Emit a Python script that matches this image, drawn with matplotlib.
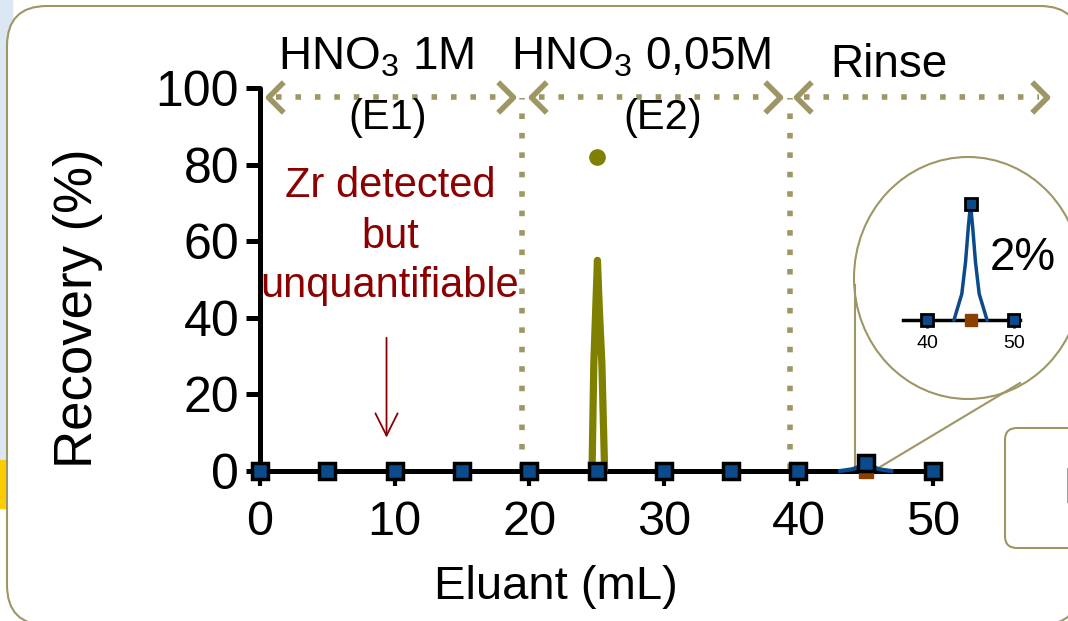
import matplotlib
matplotlib.use("Agg")
import matplotlib.pyplot as plt
from matplotlib.patches import FancyBboxPatch, Ellipse, Rectangle
from matplotlib.path import Path

plt.rcParams['font.family'] = ['Liberation Sans', 'DejaVu Sans']
plt.rcParams['mathtext.fontset'] = 'custom'
plt.rcParams['mathtext.rm'] = 'Liberation Sans'

# ==========================
# Data
# ==========================
eluant_ml = [0, 5, 10, 15, 20, 25, 30, 35, 40, 45, 50]
recovery_blue = [0, 0, 0, 0, 0, 0, 0, 0, 0, 2, 0]

# smoothed blue curve around the 45 mL fraction
bump_x = [43.1, 43.5, 44.0, 44.43, 44.75, 45.0, 45.25, 45.57, 46.0, 46.5, 46.9]
bump_y = [0, 0.2, 0.45, 1.0, 1.6, 2.0, 1.6, 1.0, 0.45, 0.2, 0]

brown_x = [45]
brown_y = [0]

# olive spline (drawn as two nearly parallel strokes) and its point
olive_line_x = [24.67, 24.8, 24.95, 25.07, 25.2, 25.4, 25.6]
olive_line_y = [0.5, 28, 43, 55, 43, 28, 0.5]
olive_dot_x = [25]
olive_dot_y = [82]

xticks = [0, 10, 20, 30, 40, 50]
yticks = [0, 20, 40, 60, 80, 100]
inset_ticks = [40, 50]

phase_edges = [19.5, 39.4]
phase_spans = [(0.6, 18.8), (20.1, 38.6), (39.8, 58.5)]

BLUE = '#0b4a8b'
OLIVE = '#808000'
KHAKI = '#9e9664'
BROWN = '#8b4000'
DARKRED = '#8b0000'

W, H = 1068, 621
fig = plt.figure(figsize=(W / 100, H / 100), dpi=100)

# ==========================
# Slide background (pixel coordinates)
# ==========================
bg = fig.add_axes([0, 0, 1, 1], zorder=-1)
bg.set_xlim(0, W)
bg.set_ylim(H, 0)
bg.axis('off')
bg.add_patch(Rectangle((0, 0), 12, 460, color='#dbe8f4'))
bg.add_patch(Rectangle((0, 460), 12, 48, color='#ffcc00'))
bg.add_patch(FancyBboxPatch((7, 6), 1073, 619,
                            boxstyle='round,pad=0,rounding_size=40',
                            fc='white', ec=KHAKI, lw=1.5))
bg.add_patch(FancyBboxPatch((1005, 428), 100, 120,
                            boxstyle='round,pad=0,rounding_size=12',
                            fc='white', ec=KHAKI, lw=1.5))
bg.text(1062, 490, 'I', fontsize=36, ha='left', va='center')

# zoom circle + leader lines
bg.add_patch(Ellipse((968, 278), 228, 242, fc='white', ec=KHAKI, lw=1.5))
bg.plot([855, 855], [285, 470], color=KHAKI, lw=1.5)
bg.plot([1020, 880], [383, 467], color=KHAKI, lw=1.5)

# ==========================
# Main axes
# ==========================
x_px0, px_per_ml = 260, 13.46
y_px0, px_per_pct = 471, 3.83
xmax = 58.5
ax = fig.add_axes([x_px0 / W, (H - y_px0) / H,
                   xmax * px_per_ml / W, 100 * px_per_pct / H])
ax.set_facecolor('none')
ax.set_xlim(0, xmax)
ax.set_ylim(0, 100)

for s in ['top', 'right']:
    ax.spines[s].set_visible(False)
ax.spines['left'].set_linewidth(3.6)
ax.spines['bottom'].set_linewidth(3.6)
ax.spines['bottom'].set_bounds(0, 50)
ax.spines['left'].set_capstyle('round')
ax.spines['bottom'].set_capstyle('round')

ax.set_xticks(xticks)
ax.set_yticks(yticks)
ax.tick_params(axis='x', length=11, width=3, pad=10, labelsize=35)
ax.tick_params(axis='y', length=10, width=3.6, pad=5, labelsize=36)

ax.set_xlabel('Eluant (mL)', fontsize=34)
ax.xaxis.set_label_coords(0.376, -0.245)
ax.set_ylabel('Recovery (%)', fontsize=38)
ax.yaxis.set_label_coords(-0.2, 0.425)

# phase separators
for xe in phase_edges:
    ax.plot([xe, xe], [0.5, 97.5], color=KHAKI, lw=4,
            linestyle=(0, (1, 2.5)), dash_capstyle='butt', clip_on=False, zorder=1)

# double-headed dotted arrows
left_head = Path([(1, 1), (0, 0), (1, -1)], [Path.MOVETO, Path.LINETO, Path.LINETO])
right_head = Path([(-1, 1), (0, 0), (-1, -1)], [Path.MOVETO, Path.LINETO, Path.LINETO])
for x0, x1 in phase_spans:
    ax.plot([x0 + 0.6, x1 - 0.6], [97.6, 97.6], color=KHAKI, lw=4,
            linestyle=(0, (1, 2.5)), dash_capstyle='butt', clip_on=False)
    ax.plot([x0], [97.6], marker=left_head, ms=22, mfc='none', mec=KHAKI,
            mew=4, clip_on=False)
    ax.plot([x1], [97.6], marker=right_head, ms=22, mfc='none', mec=KHAKI,
            mew=4, clip_on=False)

# phase labels
ax.text(8.6, 104.7, r'HNO$_\mathregular{3}$ 1M', fontsize=33, ha='center',
        va='baseline', clip_on=False)
ax.text(28.3, 104.7, r'HNO$_\mathregular{3}$ 0,05M', fontsize=33, ha='center',
        va='baseline', clip_on=False)
ax.text(46.7, 102.9, 'Rinse', fontsize=33, ha='center', va='baseline', clip_on=False)
ax.text(9.5, 92.2, '(E1)', fontsize=30, ha='center', va='center')
ax.text(29.9, 92.2, '(E2)', fontsize=30, ha='center', va='center')

# Zr note
for txt, yb in zip(['Zr detected', 'but', 'unquantifiable'], [71.5, 58.2, 45.4]):
    ax.text(9.66, yb, txt, fontsize=30, color=DARKRED, ha='center', va='baseline')
ax.annotate('', xy=(9.4, 8.0), xytext=(9.4, 35.5),
            arrowprops=dict(arrowstyle='->,head_length=0.8,head_width=0.4',
                            color=DARKRED, lw=1.3, mutation_scale=20))

# olive series
ax.plot(olive_line_x, olive_line_y, color=OLIVE, lw=5.2, solid_joinstyle='round',
        solid_capstyle='round', zorder=3, clip_on=False)
ax.plot(olive_dot_x, olive_dot_y, 'o', color=OLIVE, ms=11, zorder=3)

# blue / brown series
ax.plot(brown_x, brown_y, 's', color=BROWN, ms=10, zorder=4, clip_on=False)
ax.plot(bump_x, bump_y, color=BLUE, lw=3, zorder=4, clip_on=False)
ax.plot(eluant_ml, recovery_blue, 's', mfc=BLUE, mec='black', mew=2.5, ms=12,
        zorder=5, clip_on=False)

# ==========================
# Zoomed inset
# ==========================
in_x0, in_px = 927, 8.7   # px of 40 mL, px per mL
in_y0, in_py = 320, 58.0  # px of 0 %, px per %
ix_lo, ix_hi = 37.2, 50.7
iy_lo, iy_hi = -0.5, 2.4
axi = fig.add_axes([(in_x0 + (ix_lo - 40) * in_px) / W,
                    (H - (in_y0 - iy_lo * in_py)) / H,
                    (ix_hi - ix_lo) * in_px / W,
                    (iy_hi - iy_lo) * in_py / H])
axi.set_facecolor('none')
axi.set_xlim(ix_lo, ix_hi)
axi.set_ylim(iy_lo, iy_hi)
for s in ['top', 'right', 'left']:
    axi.spines[s].set_visible(False)
axi.spines['bottom'].set_position(('data', 0))
axi.spines['bottom'].set_linewidth(2.5)
axi.set_yticks([])
axi.set_xticks(inset_ticks)
axi.tick_params(axis='x', length=6, width=2, pad=5, labelsize=14)
axi.plot(bump_x, bump_y, color=BLUE, lw=2.5, zorder=3, solid_joinstyle='round')
axi.plot(brown_x, brown_y, 's', color=BROWN, ms=8, zorder=3)
axi.plot(eluant_ml, recovery_blue, 's', mfc=BLUE, mec='black', mew=2, ms=8,
         zorder=4)
bg.text(1023, 258, '2%', fontsize=33, ha='center', va='center')

fig.savefig('out.png', dpi=100)
